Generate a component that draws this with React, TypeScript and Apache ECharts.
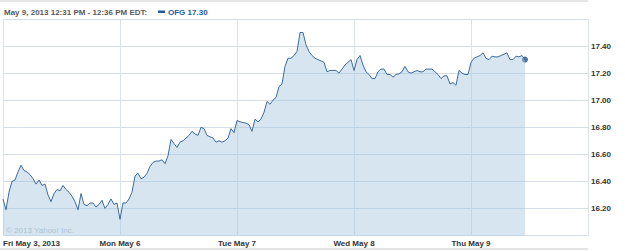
import React, { useEffect, useRef } from "react";
import * as echarts from "echarts";

const dayLabels = ["Fri May 3, 2013", "Mon May 6", "Tue May 7", "Wed May 8", "Thu May 9"];
const headerText = "May 9, 2013 12:31 PM - 12:36 PM EDT:";
const legendText = "OFG 17.30";
const copyrightText = "\u00a9 2013 Yahoo! Inc.";
const intervalsPerDay = 39; // 10-minute bars, 9:30-16:00

const fri = [16.27, 16.19, 16.32, 16.4, 16.41, 16.47, 16.52, 16.48, 16.47, 16.45, 16.42, 16.38, 16.41, 16.37, 16.38, 16.3, 16.25, 16.31, 16.34, 16.33, 16.37, 16.34, 16.32, 16.29, 16.25, 16.19, 16.31, 16.23, 16.22, 16.24, 16.24, 16.21, 16.23, 16.26, 16.2, 16.23, 16.27, 16.23, 16.24];
const mon = [16.12, 16.24, 16.24, 16.27, 16.32, 16.44, 16.46, 16.42, 16.43, 16.46, 16.51, 16.54, 16.55, 16.55, 16.56, 16.53, 16.59, 16.71, 16.68, 16.65, 16.69, 16.7, 16.72, 16.74, 16.77, 16.75, 16.74, 16.8, 16.79, 16.74, 16.73, 16.72, 16.69, 16.7, 16.69, 16.7, 16.72, 16.79, 16.76];
const tue = [16.85, 16.84, 16.835, 16.83, 16.82, 16.77, 16.86, 16.84, 16.86, 16.91, 16.99, 16.97, 17.0, 17.02, 17.1, 17.12, 17.25, 17.31, 17.31, 17.33, 17.36, 17.5, 17.5, 17.41, 17.36, 17.33, 17.31, 17.3, 17.29, 17.28, 17.21, 17.22, 17.22, 17.22, 17.2, 17.23, 17.26, 17.28, 17.3];
const wed = [17.22, 17.3, 17.33, 17.26, 17.21, 17.19, 17.16, 17.16, 17.21, 17.23, 17.23, 17.19, 17.19, 17.17, 17.19, 17.195, 17.21, 17.25, 17.21, 17.2, 17.21, 17.22, 17.21, 17.21, 17.23, 17.23, 17.23, 17.21, 17.19, 17.16, 17.18, 17.18, 17.12, 17.13, 17.11, 17.22, 17.2, 17.19, 17.19];
const thu = [17.28, 17.31, 17.32, 17.33, 17.35, 17.31, 17.3, 17.325, 17.32, 17.32, 17.33, 17.34, 17.35, 17.3, 17.3, 17.325, 17.32, 17.33, 17.3];

const FONT = '"Liberation Sans", Arial, sans-serif';

export default function App() {
  const ref = useRef<HTMLDivElement>(null);
  useEffect(() => {
    if (!ref.current) return;
    const chart = echarts.init(ref.current, undefined, { renderer: "svg" });
    const days = [fri, mon, tue, wed, thu];
    const points = days.flatMap((d, di) => d.map((v, i) => [di + i / intervalsPerDay, v]));
    const last = points[points.length - 1];
    chart.setOption({
      animation: false,
      backgroundColor: "#ffffff",
      grid: { left: 2, right: 37, top: 19, bottom: 15.5 },
      xAxis: {
        type: "value",
        min: 0,
        max: 5,
        interval: 1,
        axisLine: { show: false },
        axisTick: { show: false },
        splitLine: { show: true, lineStyle: { color: "#dbe3ea", width: 1 } },
        axisLabel: {
          formatter: (v: number) => dayLabels[Math.round(v)] ?? "",
          showMaxLabel: false,
          alignMinLabel: "left",
          margin: 4,
          color: "#333333",
          fontSize: 8,
          fontWeight: "bold",
          fontFamily: FONT,
        },
      },
      yAxis: {
        type: "value",
        position: "right",
        min: 16,
        max: 17.6,
        interval: 0.2,
        axisLine: { show: false },
        axisTick: { show: false },
        splitLine: { show: true, lineStyle: { color: "#d5dee7", width: 1 } },
        axisLabel: {
          formatter: (v: number) => v.toFixed(2),
          showMinLabel: false,
          showMaxLabel: false,
          margin: 3,
          color: "#333333",
          fontSize: 8,
          fontWeight: "bold",
          fontFamily: FONT,
        },
      },
      series: [
        {
          type: "line",
          data: points,
          showSymbol: false,
          lineStyle: { color: "#3d6b9c", width: 1 },
          areaStyle: { color: "rgba(157,193,219,0.42)", opacity: 1 },
          silent: true,
        },
        {
          type: "scatter",
          data: [last],
          symbolSize: 6,
          itemStyle: { color: "#1d4f85" },
          silent: true,
        },
      ],
      graphic: [
        { type: "rect", shape: { x: 0, y: 0, width: 588, height: 2 }, style: { fill: "#e6e6e6" } },
        { type: "rect", shape: { x: 0, y: 248, width: 588, height: 2 }, style: { fill: "#e3e3e3" } },
        {
          type: "text",
          x: 4,
          y: 12,
          style: { text: headerText, verticalAlign: "middle", fill: "#5a5a5a", font: `bold 8px ${FONT}` },
        },
        { type: "rect", shape: { x: 158, y: 10.5, width: 7, height: 2.5 }, style: { fill: "#1f5c99" } },
        {
          type: "text",
          x: 168,
          y: 12,
          style: { text: legendText, verticalAlign: "middle", fill: "#1f5c99", font: `bold 8px ${FONT}` },
        },
        {
          type: "text",
          x: 6,
          y: 230,
          style: { text: copyrightText, verticalAlign: "middle", fill: "#b6c3ce", font: `8px ${FONT}` },
        },
      ],
    });
    return () => chart.dispose();
  }, []);
  return <div ref={ref} style={{ position: "fixed", left: 0, top: 0, width: 625, height: 251 }} />;
}
